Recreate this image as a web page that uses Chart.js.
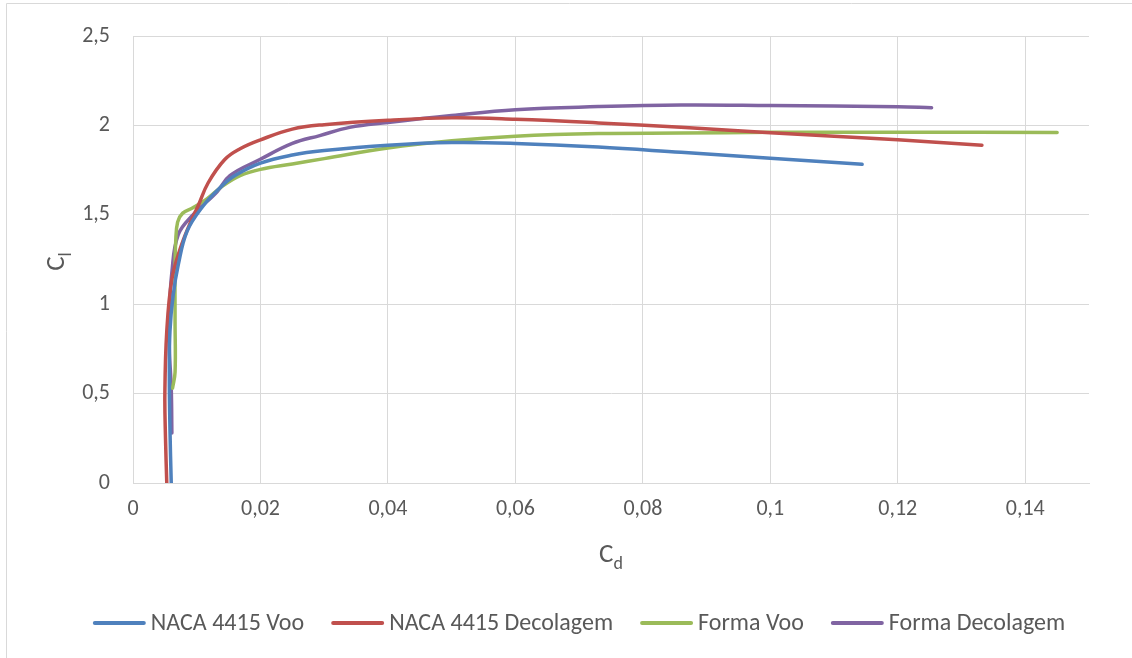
<!DOCTYPE html>
<html>
<head>
<meta charset="utf-8">
<script src="https://cdn.jsdelivr.net/npm/chart.js@4.4.1/dist/chart.umd.min.js"></script>
<style>
  html, body { margin: 0; padding: 0; background: #ffffff; }
  #wrap { width: 1132px; height: 658px; position: relative; }
</style>
</head>
<body>
<div id="wrap"><canvas id="polar"></canvas></div>
<script>
// Drag polar (Cl vs Cd) for NACA 4415 and the designed section, cruise and take-off
const seriesNames = ['NACA 4415 Voo', 'NACA 4415 Decolagem', 'Forma Voo', 'Forma Decolagem'];
const seriesColors = ['#4F81BD', '#C0504D', '#9BBB59', '#8064A2'];

const nacaVooCd = [0.0060, 0.0058, 0.0057, 0.0058, 0.0063, 0.0071, 0.0085, 0.0110, 0.0136, 0.0160, 0.0200, 0.0250, 0.0300, 0.0400, 0.0500, 0.0600, 0.0730, 0.0860, 0.1000, 0.1144];
const nacaVooCl = [0.00, 0.30, 0.60, 0.85, 1.05, 1.22, 1.41, 1.55, 1.65, 1.72, 1.79, 1.835, 1.86, 1.89, 1.905, 1.90, 1.88, 1.85, 1.817, 1.783];

const nacaDecCd = [0.0053, 0.0051, 0.0050, 0.0053, 0.0061, 0.0074, 0.0088, 0.0102, 0.0118, 0.0144, 0.0168, 0.0200, 0.0250, 0.0300, 0.0400, 0.0500, 0.0600, 0.0730, 0.0860, 0.1000, 0.1200, 0.1332];
const nacaDecCl = [0.00, 0.25, 0.50, 0.85, 1.14, 1.31, 1.44, 1.55, 1.68, 1.81, 1.87, 1.92, 1.98, 2.005, 2.03, 2.043, 2.035, 2.015, 1.99, 1.96, 1.92, 1.89];

const formaVooCd = [0.0062, 0.0066, 0.0066, 0.0066, 0.0067, 0.0070, 0.0078, 0.0094, 0.0116, 0.0140, 0.0168, 0.0200, 0.0250, 0.0300, 0.0400, 0.0500, 0.0600, 0.0730, 0.0860, 0.1000, 0.1200, 0.1450];
const formaVooCl = [0.53, 0.62, 0.90, 1.20, 1.35, 1.46, 1.51, 1.54, 1.59, 1.66, 1.72, 1.755, 1.785, 1.815, 1.875, 1.915, 1.94, 1.955, 1.958, 1.962, 1.963, 1.961];

const formaDecCd = [0.0061, 0.0060, 0.0057, 0.0057, 0.0061, 0.0071, 0.0094, 0.0132, 0.0152, 0.0199, 0.0250, 0.0293, 0.0340, 0.0400, 0.0500, 0.0600, 0.0730, 0.0860, 0.1000, 0.1200, 0.1253];
const formaDecCl = [0.28, 0.53, 0.75, 0.94, 1.18, 1.39, 1.50, 1.63, 1.72, 1.81, 1.90, 1.944, 1.99, 2.017, 2.056, 2.089, 2.106, 2.115, 2.112, 2.105, 2.100];

const xTickValues = [0, 0.02, 0.04, 0.06, 0.08, 0.10, 0.12, 0.14];
const yTickValues = [0, 0.5, 1, 1.5, 2, 2.5];

const cdSeries = [nacaVooCd, nacaDecCd, formaVooCd, formaDecCd];
const clSeries = [nacaVooCl, nacaDecCl, formaVooCl, formaDecCl];

const FONT = "Carlito, Lato, 'Liberation Sans', sans-serif";
const GRID = '#d9d9d9';
const TEXT = '#595959';

function commaLabel(v) {
  const r = Math.round(v * 1000) / 1000;
  return String(r).replace('.', ',');
}

const datasets = seriesNames.map((name, i) => ({
  label: name,
  data: cdSeries[i].map((cd, k) => ({ x: cd, y: clSeries[i][k] })),
  borderColor: seriesColors[i],
  backgroundColor: seriesColors[i],
  borderWidth: 3.5,
  showLine: true,
  pointRadius: 0,
  pointHoverRadius: 0,
  tension: 0.4,
  borderCapStyle: 'round',
  borderJoinStyle: 'round',
  fill: false
}));

// Axis titles with subscripts, single-row legend and the outer frame
const decorations = {
  id: 'decorations',
  afterDraw(chart) {
    const ctx = chart.ctx;
    ctx.save();
    ctx.strokeStyle = GRID;
    ctx.lineWidth = 1;
    ctx.beginPath();
    ctx.moveTo(6.5, 700);
    ctx.lineTo(6.5, 3.5);
    ctx.lineTo(1200, 3.5);
    ctx.stroke();

    ctx.fillStyle = TEXT;
    ctx.textBaseline = 'alphabetic';
    ctx.textAlign = 'left';

    // x title: C_d
    const xa = chart.scales.x;
    const cx = (xa.left + xa.right) / 2;
    ctx.font = '27px ' + FONT;
    const wC = ctx.measureText('C').width;
    ctx.font = '18px ' + FONT;
    const wD = ctx.measureText('d').width;
    const startX = cx - (wC + wD) / 2;
    ctx.font = '27px ' + FONT;
    ctx.fillText('C', startX, 562);
    ctx.font = '18px ' + FONT;
    ctx.fillText('d', startX + wC, 569);

    // legend: line sample followed by the series name, one row
    const lineLen = 53, gapText = 5, gapItem = 27, legendY = 623;
    ctx.font = '24px ' + FONT;
    const widths = chart.data.datasets.map(ds => ctx.measureText(ds.label).width);
    const total = widths.reduce((a, w) => a + lineLen + gapText + w, 0) + gapItem * (widths.length - 1);
    let lx = 579 - total / 2;
    ctx.textBaseline = 'middle';
    chart.data.datasets.forEach((ds, i) => {
      ctx.strokeStyle = ds.borderColor;
      ctx.lineWidth = 4;
      ctx.lineCap = 'round';
      ctx.beginPath();
      ctx.moveTo(lx + 2, legendY);
      ctx.lineTo(lx + lineLen - 2, legendY);
      ctx.stroke();
      ctx.fillStyle = TEXT;
      ctx.fillText(ds.label, lx + lineLen + gapText, legendY + 1);
      lx += lineLen + gapText + widths[i] + gapItem;
    });
    ctx.textBaseline = 'alphabetic';

    // y title: C_l (rotated)
    const ya = chart.scales.y;
    const cy = (ya.top + ya.bottom) / 2;
    ctx.translate(64, cy);
    ctx.rotate(-Math.PI / 2);
    ctx.font = '27px ' + FONT;
    const wC2 = ctx.measureText('C').width;
    ctx.font = '18px ' + FONT;
    const wL = ctx.measureText('l').width;
    const sy = -(wC2 + wL) / 2 - 2;
    ctx.font = '27px ' + FONT;
    ctx.fillText('C', sy, 0);
    ctx.font = '18px ' + FONT;
    ctx.fillText('l', sy + wC2, 7);
    ctx.restore();
  }
};

new Chart(document.getElementById('polar'), {
  type: 'scatter',
  data: { datasets },
  options: {
    responsive: true,
    maintainAspectRatio: false,
    animation: false,
    devicePixelRatio: 1,
    layout: { padding: { left: 69, right: 43, top: 33, bottom: 0 } },
    plugins: {
      legend: { display: false },
      tooltip: { enabled: false }
    },
    scales: {
      x: {
        type: 'linear',
        min: 0,
        max: 0.15,
        afterBuildTicks(scale) {
          scale.ticks = xTickValues.concat([0.15]).map(v => ({ value: v }));
        },
        afterFit(scale) { scale.height = 175; },
        grid: {
          color: ctx => (ctx.tick && ctx.tick.value > 0.145 ? 'rgba(0,0,0,0)' : GRID),
          lineWidth: 1,
          drawTicks: false
        },
        border: { display: true, color: GRID, width: 1 },
        ticks: {
          color: TEXT,
          padding: 13,
          maxRotation: 0,
          autoSkip: false,
          font: { family: FONT, size: 22 },
          callback: v => (v > 0.145 ? '' : commaLabel(v))
        }
      },
      y: {
        type: 'linear',
        min: 0,
        max: 2.5,
        afterBuildTicks(scale) {
          scale.ticks = yTickValues.map(v => ({ value: v }));
        },
        afterFit(scale) { scale.width = 64; },
        grid: { color: GRID, lineWidth: 1, drawTicks: false },
        border: { display: true, color: GRID, width: 1 },
        ticks: {
          color: TEXT,
          padding: 23,
          font: { family: FONT, size: 22 },
          callback: v => commaLabel(v)
        }
      }
    }
  },
  plugins: [decorations]
});
</script>
</body>
</html>
